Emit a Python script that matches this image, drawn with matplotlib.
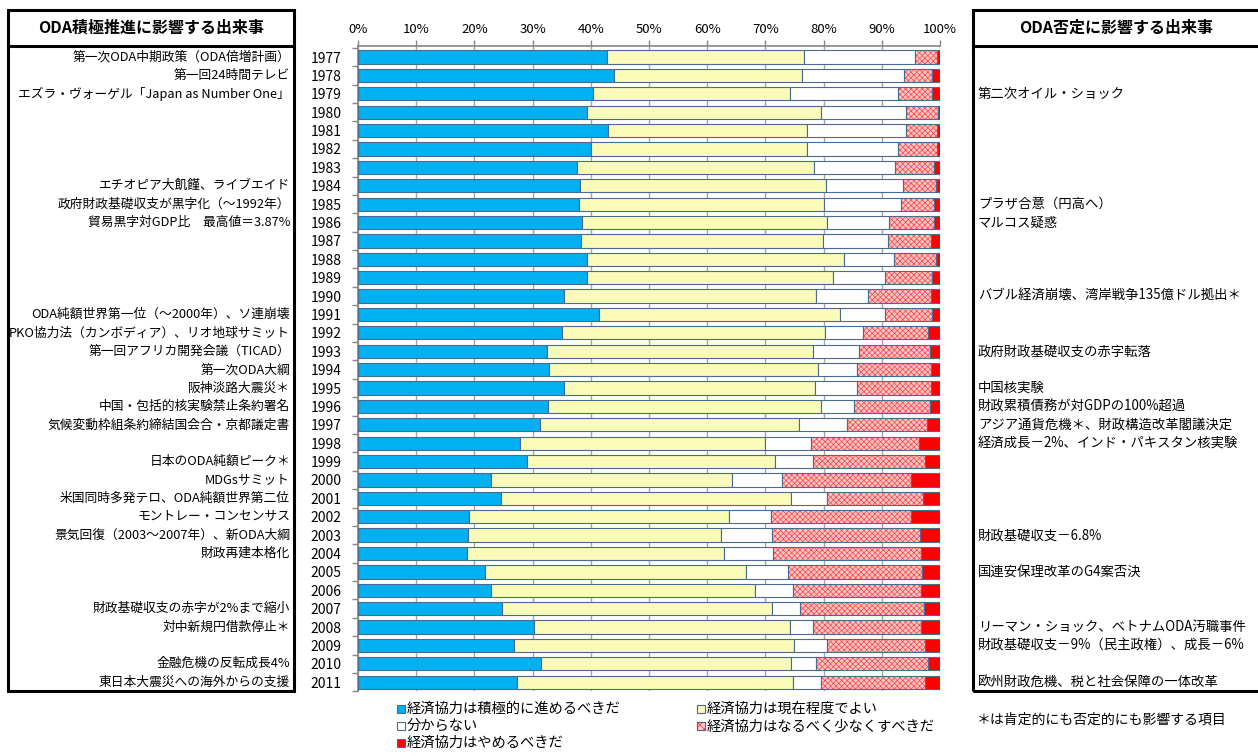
import matplotlib
matplotlib.use("Agg")
import matplotlib.pyplot as plt
import matplotlib.transforms as mtransforms
from matplotlib.patches import Rectangle
import numpy as np

plt.rcParams["font.family"] = ["Noto Sans CJK JP", "DejaVu Sans"]
plt.rcParams["hatch.linewidth"] = 0.55

# ---- survey results (% of respondents) ----
years = list(range(1977, 2012))
positive = [42.7, 44.0, 40.4, 39.4, 43.0, 40.0, 37.6, 38.2, 37.9, 38.5,
            38.3, 39.4, 39.3, 35.4, 41.4, 35.1, 32.5, 32.9, 35.4, 32.7,
            31.2, 27.9, 29.1, 22.9, 24.6, 19.1, 18.9, 18.7, 21.9, 22.9,
            24.7, 30.3, 26.8, 31.4, 27.3]
moderate = [33.9, 32.3, 33.8, 40.2, 34.1, 37.1, 40.8, 42.2, 42.1, 42.1,
            41.6, 44.1, 42.4, 43.3, 41.4, 45.1, 45.7, 46.2, 43.2, 46.9,
            44.5, 42.0, 42.5, 41.4, 49.8, 44.7, 43.5, 44.2, 44.7, 45.3,
            46.4, 44.0, 48.1, 43.0, 47.4]
unknown = [19.1, 17.6, 18.6, 14.5, 17.1, 15.6, 13.8, 13.3, 13.3, 10.6,
           11.1, 8.6, 8.8, 9.0, 7.8, 6.6, 7.8, 6.7, 7.2, 5.6,
           8.4, 8.0, 6.6, 8.6, 6.2, 7.1, 8.7, 8.4, 7.3, 6.5,
           4.9, 3.8, 5.6, 4.3, 4.8]
fewer = [3.7, 4.8, 5.9, 5.5, 5.2, 6.7, 6.7, 5.6, 5.6, 7.7,
         7.4, 7.2, 8.2, 10.7, 8.0, 11.2, 12.3, 12.6, 12.6, 13.1,
         13.6, 18.5, 19.3, 22.2, 16.5, 24.2, 25.5, 25.5, 23.0, 22.0,
         21.2, 18.6, 17.0, 19.3, 17.9]
stop = [0.6, 1.3, 1.3, 0.4, 0.6, 0.6, 1.1, 0.7, 1.1, 1.1,
        1.6, 0.7, 1.3, 1.6, 1.4, 2.0, 1.7, 1.6, 1.6, 1.7,
        2.3, 3.6, 2.5, 4.9, 2.9, 4.9, 3.4, 3.2, 3.1, 3.3,
        2.8, 3.3, 2.5, 2.0, 2.6]

series_labels = ["経済協力は積極的に進めるべきだ", "経済協力は現在程度でよい", "分からない",
                 "経済協力はなるべく少なくすべきだ", "経済協力はやめるべきだ"]

# events that pushed ODA forward
pro_events = {
    1977: "第一次ODA中期政策（ODA倍増計画）",
    1978: "第一回24時間テレビ",
    1979: "エズラ・ヴォーゲル「Japan as Number One」",
    1984: "エチオピア大飢饉、ライブエイド",
    1985: "政府財政基礎収支が黒字化（～1992年）",
    1986: "貿易黒字対GDP比　最高値＝3.87%",
    1991: "ODA純額世界第一位（～2000年）、ソ連崩壊",
    1992: "PKO協力法（カンボディア）、リオ地球サミット",
    1993: "第一回アフリカ開発会議（TICAD）",
    1994: "第一次ODA大綱",
    1995: "阪神淡路大震災＊",
    1996: "中国・包括的核実験禁止条約署名",
    1997: "気候変動枠組条約締結国会合・京都議定書",
    1999: "日本のODA純額ピーク＊",
    2000: "MDGsサミット",
    2001: "米国同時多発テロ、ODA純額世界第二位",
    2002: "モントレー・コンセンサス",
    2003: "景気回復（2003～2007年）、新ODA大綱",
    2004: "財政再建本格化",
    2007: "財政基礎収支の赤字が2%まで縮小",
    2008: "対中新規円借款停止＊",
    2010: "金融危機の反転成長4%",
    2011: "東日本大震災への海外からの支援",
}

# events that turned opinion against ODA
con_events = {
    1979: "第二次オイル・ショック",
    1985: "プラザ合意（円高へ）",
    1986: "マルコス疑惑",
    1990: "バブル経済崩壊、湾岸戦争135億ドル拠出＊",
    1993: "政府財政基礎収支の赤字転落",
    1995: "中国核実験",
    1996: "財政累積債務が対GDPの100%超過",
    1997: "アジア通貨危機＊、財政構造改革閣議決定",
    1998: "経済成長－2%、インド・パキスタン核実験",
    2003: "財政基礎収支－6.8%",
    2005: "国連安保理改革のG4案否決",
    2008: "リーマン・ショック、ベトナムODA汚職事件",
    2009: "財政基礎収支－9%（民主政権）、成長－6%",
    2011: "欧州財政危機、税と社会保障の一体改革",
}

W, H = 1258, 756
fig = plt.figure(figsize=(W / 100, H / 100), dpi=100)
fig.patch.set_facecolor("white")


def fx(px):
    return px / W


def fy(py):
    return 1 - py / H


ax_top, ax_bot = 46.0, 691.4
ax = fig.add_axes([fx(358), fy(ax_bot), fx(940) - fx(358), (ax_bot - ax_top) / H])

ypos = np.arange(len(years))
edge = "#4A6A90"
styles = [
    ("#00B0F0", None),
    ("#FAFAB9", None),
    ("#FFFFFF", None),
    ("#FFC8C8", "xxxxxx"),
    ("#FF0000", None),
]
cum = np.zeros(len(years))
for vals, (fc, hatch) in zip([positive, moderate, unknown, fewer, stop], styles):
    vals = np.asarray(vals)
    if hatch:
        ax.barh(ypos, vals, left=cum, height=0.72, color=fc, hatch=hatch,
                edgecolor="#FF4848", linewidth=0, zorder=2)
        ax.barh(ypos, vals, left=cum, height=0.72, fill=False,
                edgecolor=edge, linewidth=0.8, zorder=3)
    else:
        ax.barh(ypos, vals, left=cum, height=0.72, color=fc,
                edgecolor=edge, linewidth=0.8, zorder=3)
    cum += vals

ax.set_xlim(0, 100)
ax.set_ylim(len(years) - 0.5, -0.6)
ax.xaxis.tick_top()
ax.set_xticks(np.arange(0, 101, 10))
ax.set_xticklabels([f"{v}%" for v in range(0, 101, 10)], fontsize=9.5)
ax.tick_params(axis="x", length=4, width=1, color="#868686", pad=3)
ax.set_yticks(ypos)
ax.set_yticklabels([str(y) for y in years], fontsize=10)
ax.tick_params(axis="y", which="major", length=0, pad=12)
ax.set_yticks(np.arange(-0.5, len(years), 1.0), minor=True)
ax.tick_params(axis="y", which="minor", length=4, width=1, color="#868686")
ax.grid(axis="x", color="#A6A6A6", linewidth=1.0, zorder=0)
ax.set_axisbelow(True)
for side in ("right", "bottom"):
    ax.spines[side].set_visible(False)
for side in ("top", "left"):
    ax.spines[side].set_color("#868686")
    ax.spines[side].set_linewidth(1.2)

# event panels on both sides of the chart
row_tf = mtransforms.blended_transform_factory(fig.transFigure, ax.transData)
for yr, txt in pro_events.items():
    ax.text(fx(290), years.index(yr), txt, transform=row_tf, ha="right",
            va="center", fontsize=9.2, clip_on=False)
for yr, txt in con_events.items():
    ax.text(fx(978), years.index(yr), txt, transform=row_tf, ha="left",
            va="center", fontsize=9.6, clip_on=False)

box_lw = 2.2
for x0, x1, title, cx in [(8, 294, "ODA積極推進に影響する出来事", 151),
                          (973, 1264, "ODA否定に影響する出来事", 1116)]:
    fig.add_artist(Rectangle((fx(x0), fy(691)), fx(x1) - fx(x0), (691 - 10) / H,
                             transform=fig.transFigure, fill=False,
                             edgecolor="black", linewidth=box_lw))
    fig.add_artist(plt.Line2D([fx(x0), fx(x1)], [fy(46), fy(46)],
                              transform=fig.transFigure, color="black",
                              linewidth=box_lw))
    fig.text(fx(cx), fy(28), title, ha="center", va="center",
             fontsize=11.5, fontweight="bold")

# legend
legend_items = [
    (397, 709, 0), (697, 709, 1), (397, 726, 2), (697, 726, 3), (397, 743, 4),
]
for x, yc, i in legend_items:
    fc, hatch = styles[i]
    kw = dict(transform=fig.transFigure, facecolor=fc, linewidth=0.8)
    if hatch:
        fig.add_artist(Rectangle((fx(x), fy(yc + 4)), 8 / W, 8 / H,
                                 hatch="xxxx", edgecolor="#FF4848", **kw))
        fig.add_artist(Rectangle((fx(x), fy(yc + 4)), 8 / W, 8 / H,
                                 transform=fig.transFigure, fill=False,
                                 edgecolor=edge, linewidth=0.8))
    else:
        fig.add_artist(Rectangle((fx(x), fy(yc + 4)), 8 / W, 8 / H,
                                 edgecolor=edge, **kw))
    fig.text(fx(x + 10), fy(yc), series_labels[i], ha="left", va="center",
             fontsize=10.3)

fig.text(fx(977), fy(720), "＊は肯定的にも否定的にも影響する項目", ha="left",
         va="center", fontsize=10)

fig.savefig("out.png", dpi=100, facecolor="white")
